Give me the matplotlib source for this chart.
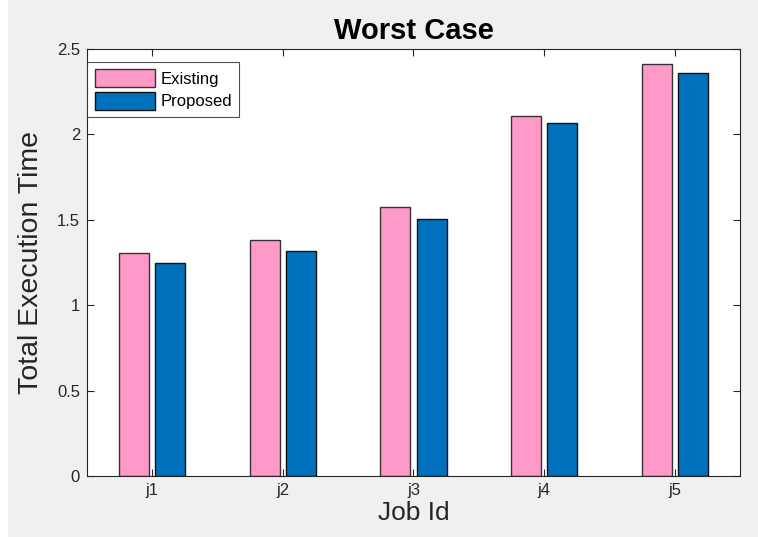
import numpy as np
import matplotlib.pyplot as plt
from matplotlib.patches import Rectangle

jobs = ['j1', 'j2', 'j3', 'j4', 'j5']
existing = [1.305, 1.38, 1.575, 2.11, 2.41]
proposed = [1.25, 1.315, 1.505, 2.065, 2.36]

plt.rcParams['font.family'] = ['Liberation Sans', 'DejaVu Sans']

fig = plt.figure(figsize=(7.58, 5.37), dpi=100, facecolor='white')
# grey figure panel (screenshot has a thin white strip on the left)
fig.patches.append(Rectangle((8 / 758, 0), 1, 1, transform=fig.transFigure,
                             facecolor='#f0f0f0', edgecolor='none', zorder=-10))

ax = fig.add_axes([87 / 758, 1 - 476 / 537, (740 - 87) / 758, (476 - 49) / 537])
x = np.arange(1, len(jobs) + 1)
w = 0.23
ax.bar(x - 0.138, existing, w, color='#ff99c8', edgecolor='#333333', linewidth=1.0, label='Existing')
ax.bar(x + 0.138, proposed, w, color='#0072bd', edgecolor='#111111', linewidth=1.0, label='Proposed')

ax.set_xlim(0.5, 5.5)
ax.set_ylim(0, 2.5)
ax.set_xticks(x)
ax.set_xticklabels(jobs)
ax.set_yticks([0, 0.5, 1, 1.5, 2, 2.5])
ax.set_yticklabels(['0', '0.5', '1', '1.5', '2', '2.5'])
ax.tick_params(direction='in', top=True, right=True, length=5, width=0.8,
               labelsize=12, colors='#262626', pad=5)
for s in ax.spines.values():
    s.set_color('#262626')
    s.set_linewidth(0.8)

ax.set_title('Worst Case', fontsize=21, fontweight='bold', pad=7)
ax.set_xlabel('Job Id', fontsize=19, color='#262626', labelpad=2)
ax.set_ylabel('Total Execution Time', fontsize=20.5, color='#262626', labelpad=9)

leg = ax.legend(loc='upper left', fontsize=12, frameon=True, fancybox=False,
                borderaxespad=0.0, handlelength=3.6, handleheight=1.3,
                handletextpad=0.35, labelspacing=0.25, borderpad=0.45,
                bbox_to_anchor=(0.0, 0.97))
leg.get_frame().set_edgecolor('#262626')
leg.get_frame().set_linewidth(0.8)

fig.savefig('out.png', dpi=100, facecolor=fig.get_facecolor())
